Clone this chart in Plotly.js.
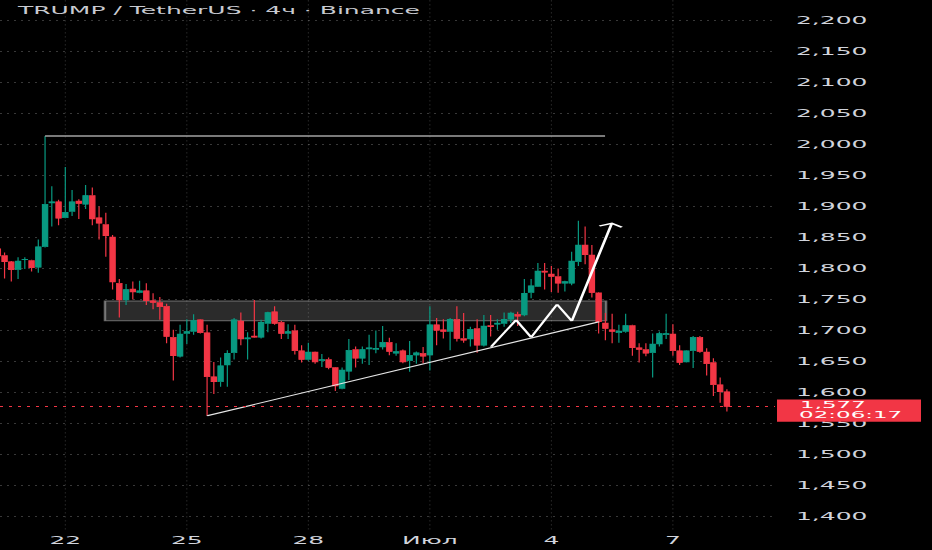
<!DOCTYPE html>
<html><head><meta charset="utf-8">
<script src="https://cdn.plot.ly/plotly-3.0.1.min.js"></script>
<style>
html,body{margin:0;padding:0;background:#000;overflow:hidden;width:932px;height:550px;}
#wrap{width:932px;height:1375px;transform:scaleY(0.4);transform-origin:0 0;}
</style></head>
<body><div id="wrap"><div id="chart"></div></div>
<script>
// ---- data ----
const START_TIME = '2025-06-20T08:00:00Z';   // first candle (4h bars)
const STEP_HOURS = 4;
const open  = [1832,1821,1811,1798,1814,1813,1802,1835,1906,1908,1882,1892,1909,1904,1918,1882,1871,1851,1776,1749,1767,1761,1764,1748,1745,1739,1689,1658,1695,1698,1717,1696,1625,1617,1644,1664,1715,1686,1691,1689,1711,1730,1713,1695,1700,1667,1653,1665,1651,1653,1640,1606,1634,1669,1655,1670,1669,1673,1681,1663,1667,1651,1660,1663,1660,1709,1701,1698,1718,1687,1686,1703,1676,1708,1710,1711,1718,1726,1725,1761,1771,1796,1791,1787,1776,1776,1811,1838,1822,1761,1712,1701,1696,1698,1708,1672,1669,1664,1678,1693,1694,1667,1649,1667,1689,1665,1648,1612,1601];
const high  = [1836,1826,1812,1818,1818,1814,1847,2014,1933,1911,1964,1927,1912,1935,1931,1900,1890,1854,1783,1775,1779,1780,1776,1760,1754,1743,1701,1709,1718,1726,1718,1709,1649,1656,1668,1720,1729,1697,1749,1717,1730,1739,1715,1710,1709,1676,1680,1666,1662,1656,1641,1640,1686,1674,1674,1693,1700,1707,1688,1679,1669,1683,1666,1673,1739,1720,1718,1720,1739,1728,1706,1718,1725,1725,1718,1729,1730,1730,1783,1783,1809,1809,1804,1800,1780,1827,1877,1868,1838,1762,1728,1727,1709,1727,1709,1679,1679,1695,1698,1727,1710,1676,1668,1691,1691,1671,1655,1624,1605];
const low   = [1810,1784,1779,1783,1799,1795,1793,1834,1868,1870,1881,1885,1880,1896,1870,1847,1819,1766,1721,1741,1750,1760,1741,1734,1717,1679,1619,1656,1678,1693,1695,1562,1597,1609,1609,1653,1676,1653,1688,1687,1697,1709,1686,1686,1661,1648,1651,1646,1641,1637,1602,1605,1620,1640,1646,1644,1663,1669,1660,1659,1647,1633,1646,1647,1635,1676,1687,1668,1682,1680,1674,1664,1674,1690,1701,1706,1712,1707,1723,1752,1770,1766,1762,1761,1763,1773,1804,1807,1753,1695,1684,1679,1680,1696,1659,1648,1658,1624,1674,1686,1659,1644,1648,1639,1664,1627,1594,1583,1569];
const close = [1820,1811,1798,1812,1815,1801,1835,1904,1908,1881,1891,1908,1905,1918,1880,1873,1853,1778,1749,1766,1762,1764,1748,1745,1738,1690,1659,1694,1698,1716,1696,1625,1617,1643,1663,1717,1686,1688,1689,1713,1729,1711,1695,1698,1667,1653,1665,1649,1653,1640,1610,1636,1668,1655,1669,1672,1671,1681,1666,1666,1649,1660,1664,1658,1709,1700,1698,1718,1687,1684,1702,1676,1707,1706,1712,1718,1728,1723,1760,1772,1796,1794,1787,1776,1779,1812,1838,1822,1761,1714,1703,1698,1699,1708,1672,1669,1663,1678,1695,1695,1667,1648,1667,1689,1666,1646,1612,1601,1577];

const symbolTitle = 'TRUMP / TetherUS · 4ч · Binance';
const lastPrice = 1577;
const countdown = '02:06:17';
const tickDates  = ['2025-06-22','2025-06-25','2025-06-28','2025-07-01','2025-07-04','2025-07-07'];
const tickLabels = ['22','25','28','Июл','4','7'];

// drawings (chart-author annotations, in data coordinates)
const resistanceX = ['2025-06-21 12:00','2025-07-05 07:48'];
const resistanceY = [2014, 2014];
const zoneX = ['2025-06-22 23:30','2025-07-05 08:24'];
const zoneY = [1715.6, 1747.5];
const trendX = ['2025-06-25 12:00','2025-07-05 04:18'];
const trendY = [1562, 1714];
const pathX = ['2025-07-02 12:18','2025-07-03 03:06','2025-07-03 12:00','2025-07-04 03:22','2025-07-04 12:06','2025-07-05 11:48'];
const pathY = [1673.6, 1716.8, 1688.8, 1742.1, 1715.2, 1873.0];
const arrowX = ['2025-07-05 04:26','2025-07-05 11:48','2025-07-05 17:43'];
const arrowY = [1868.7, 1873.0, 1866.6];

// ---- build ----
const t0 = Date.parse(START_TIME);
const times = open.map((_, i) => new Date(t0 + i * STEP_HOURS * 3600e3).toISOString().slice(0,16).replace('T',' '));

const X_RANGE = ['2025-06-20 09:18','2025-07-09 12:30'];
const Y_RANGE = [1377.4, 2233.9];
const toPaperY = p => (p - Y_RANGE[0]) / (Y_RANGE[1] - Y_RANGE[0]);

const UP = '#089981', DOWN = '#f23645';

const traces = [
  {type:'candlestick', x:times, open:open, high:high, low:low, close:close,
   increasing:{line:{color:UP,width:1.2}, fillcolor:UP},
   decreasing:{line:{color:DOWN,width:1.2}, fillcolor:DOWN},
   hoverinfo:'skip', showlegend:false},
  {type:'scatter', mode:'lines', x:resistanceX, y:resistanceY, line:{color:'#a3a3a3', width:4}, hoverinfo:'skip'},
  {type:'scatter', mode:'lines', x:trendX, y:trendY, line:{color:'#e6e6e6', width:2.6}, hoverinfo:'skip'},
  {type:'scatter', mode:'lines', x:pathX, y:pathY, line:{color:'#ffffff', width:2.8}, hoverinfo:'skip'},
  {type:'scatter', mode:'lines', x:arrowX, y:arrowY, line:{color:'#ffffff', width:3.2}, hoverinfo:'skip'}
];

const gridCol = 'rgba(255,255,255,0.22)';
const layout = {
  width:932, height:1375,
  paper_bgcolor:'#000', plot_bgcolor:'#000',
  margin:{l:0, r:157, t:0, b:50},
  showlegend:false, hovermode:false,
  boxgap:0.12, boxgroupgap:0.12,
  font:{family:'DejaVu Sans', color:'#d1d4dc'},
  title:{text:symbolTitle, xref:'container', x:18/932, xanchor:'left',
         yref:'container', y:1-10.5/550, yanchor:'middle',
         font:{family:'DejaVu Sans', size:25, color:'#c8cad0'}},
  xaxis:{type:'date', range:X_RANGE, rangeslider:{visible:false},
         tickmode:'array', tickvals:tickDates, ticktext:tickLabels,
         showgrid:true, gridcolor:gridCol, gridwidth:1, griddash:'4px,6px',
         zeroline:false, showline:false, ticks:'',
         tickfont:{family:'DejaVu Sans', size:25, color:'#d1d4dc'}, ticklabelstandoff:8},
  yaxis:{side:'right', range:Y_RANGE, tick0:0, dtick:50, tickformat:',d',
         showgrid:true, gridcolor:gridCol, gridwidth:2.5, griddash:'2px,5px',
         zeroline:false, showline:false, ticks:'',
         tickfont:{family:'DejaVu Sans', size:25, color:'#d1d4dc'}, ticklabelstandoff:20},
  shapes:[
    {type:'rect', layer:'below', xref:'x', yref:'y', x0:zoneX[0], x1:zoneX[1], y0:zoneY[0], y1:zoneY[1],
     fillcolor:'rgba(120,120,120,0.36)', line:{color:'rgba(170,170,170,0.6)', width:2.5}},
    {type:'line', layer:'above', xref:'paper', yref:'y', x0:0, x1:1, y0:lastPrice, y1:lastPrice,
     line:{color:DOWN, width:2.5, dash:'3px,6px'}},
    {type:'rect', layer:'above', xref:'paper', yref:'paper', x0:777/775, x1:921/775,
     y0:toPaperY(1552.4), y1:toPaperY(1588.3), fillcolor:DOWN, line:{width:0}}
  ],
  annotations:[
    {xref:'paper', yref:'y', x:798/775, y:1579.4, xanchor:'left', yanchor:'middle', showarrow:false,
     text:lastPrice.toLocaleString('en-US'), font:{family:'DejaVu Sans', size:23, color:'#ffffff'}},
    {xref:'paper', yref:'y', x:797/775, y:1563.2, xanchor:'left', yanchor:'middle', showarrow:false,
     text:countdown, font:{family:'DejaVu Sans', size:23, color:'#ffffff'}}
  ]
};

Plotly.newPlot('chart', traces, layout, {staticPlot:true, displayModeBar:false});
</script>
</body></html>
